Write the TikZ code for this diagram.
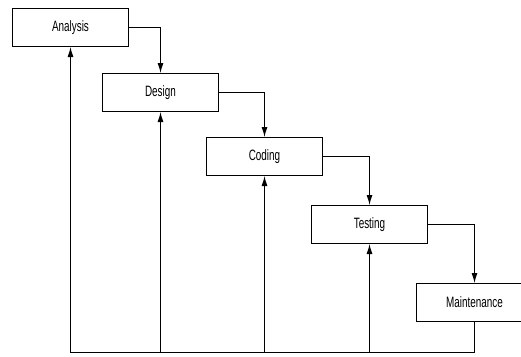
\documentclass[tikz,border=0pt]{standalone}
\usepackage{fontspec}
\setmainfont[FakeStretch=0.66]{Liberation Sans}
\usetikzlibrary{arrows.meta}
\begin{document}
\begin{tikzpicture}[x=1pt,y=-1pt,
  phase/.style={draw=black,line width=1pt,fill=white,minimum width=116pt,minimum height=38pt,inner sep=0pt,font=\fontsize{15}{17}\selectfont,text=black},
  flow/.style={line width=1pt,-{Latex[length=10pt,width=6pt]}},
  plain/.style={line width=1pt}]
\useasboundingbox (0,0) rectangle (521,356);
\clip (0,0) rectangle (521,356);
\node[phase] (ana) at (70.5,27.5) {Analysis};
\node[phase] (des) at (160.5,92.5) {Design};
\node[phase] (cod) at (264.5,156.5) {Coding};
\node[phase] (tes) at (369.5,224.5) {Testing};
\node[phase] (mai) at (474.5,302.5) {Maintenance};
\coordinate (c1) at (160.5,27.5);
\coordinate (c2) at (264.5,92.5);
\coordinate (c3) at (369.5,156.5);
\coordinate (c4) at (474.5,224.5);
\draw[flow] (ana.east) -- (c1) -- (des.north);
\draw[flow] (des.east) -- (c2) -- (cod.north);
\draw[flow] (cod.east) -- (c3) -- (tes.north);
\draw[flow] (tes.east) -- (c4) -- (mai.north);
\coordinate (b0) at (70.5,352.5);
\coordinate (b1) at (160.5,352.5);
\coordinate (b2) at (264.5,352.5);
\coordinate (b3) at (369.5,352.5);
\coordinate (b4) at (474.5,352.5);
\draw[plain] (mai.south) -- (b4) -- (b0);
\draw[flow] (b0) -- (ana.south);
\draw[flow] (b1) -- (des.south);
\draw[flow] (b2) -- (cod.south);
\draw[flow] (b3) -- (tes.south);
\end{tikzpicture}
\end{document}
